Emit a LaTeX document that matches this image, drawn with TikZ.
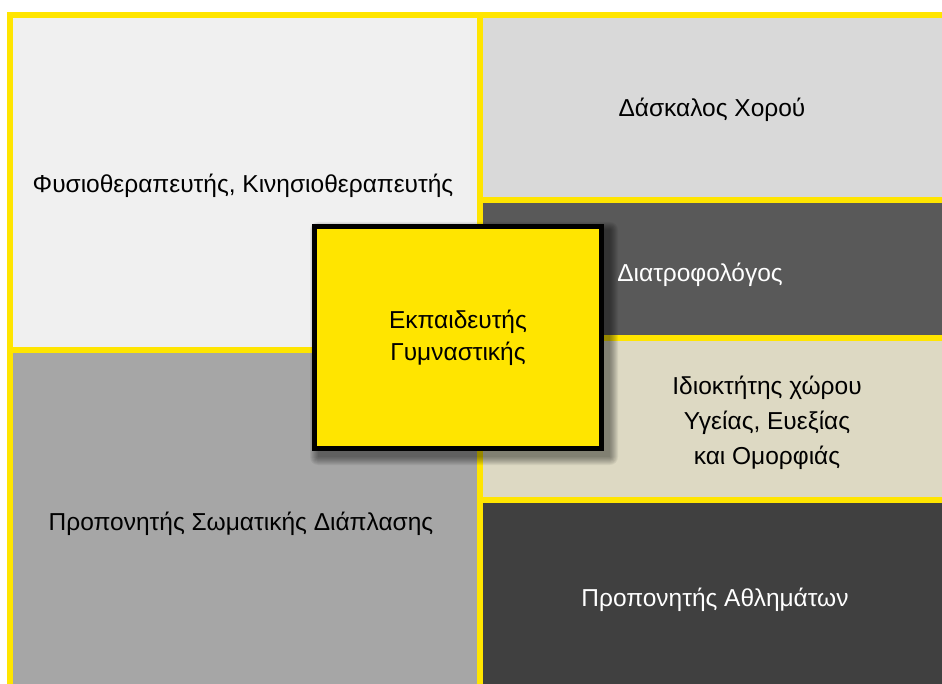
\documentclass[tikz,border=0pt]{standalone}
\usepackage{fontspec}
\setmainfont{Liberation Sans}
\definecolor{ybord}{HTML}{FFE500}
\definecolor{cphys}{HTML}{F0F0F0}
\definecolor{cdance}{HTML}{D9D9D9}
\definecolor{cdiet}{HTML}{595959}
\definecolor{cowner}{HTML}{DDD9C3}
\definecolor{csport}{HTML}{404040}
\definecolor{cbody}{HTML}{A6A6A6}
\begin{document}
\begin{tikzpicture}[x=1pt,y=-1pt,
  cell/.style={draw=ybord, line width=6pt},
  lbl/.style={font=\fontsize{24.5}{35}\selectfont, align=center, inner sep=0pt},
  center box/.style={draw=black, line width=5pt, fill=ybord, minimum width=287pt, minimum height=222pt, inner sep=0pt, align=center, font=\fontsize{24.5}{32}\selectfont}]
\useasboundingbox (0,0) rectangle (942,684);
\fill[white] (0,0) rectangle (942,684);
\begin{scope}
\clip (0,0) rectangle (942,684);
\draw[cell, fill=cphys] (9.5,15) rectangle (480,350);
\draw[cell, fill=cbody] (9.5,350) rectangle (480,692);
\draw[cell, fill=cdance] (480,15) rectangle (950,200);
\draw[cell, fill=cdiet] (480,200) rectangle (950,338);
\draw[cell, fill=cowner] (480,338) rectangle (950,500);
\draw[cell, fill=csport] (480,500) rectangle (950,692);
\end{scope}
\node[lbl] (phys) at (243,186) {Φυσιοθεραπευτής, Κινησιοθεραπευτής};
\node[lbl] (dance) at (712,110) {Δάσκαλος Χορού};
\node[lbl, text=white] (diet) at (700,275) {Διατροφολόγος};
\node[lbl] (owner) at (767,423) {Ιδιοκτήτης χώρου\\Υγείας, Ευεξίας\\και Ομορφιάς};
\node[lbl] (body) at (241,524) {Προπονητής Σωματικής Διάπλασης};
\node[lbl, text=white] (sport) at (715,600) {Προπονητής Αθλημάτων};
\foreach \i in {0,...,8}
  \fill[black, opacity=0.055, rounded corners=\i pt] (318-\i,230-\i) rectangle (610+\i,457+\i);
\node[center box] (main) at (458,337.5) {Εκπαιδευτής\\Γυμναστικής};
\end{tikzpicture}
\end{document}
